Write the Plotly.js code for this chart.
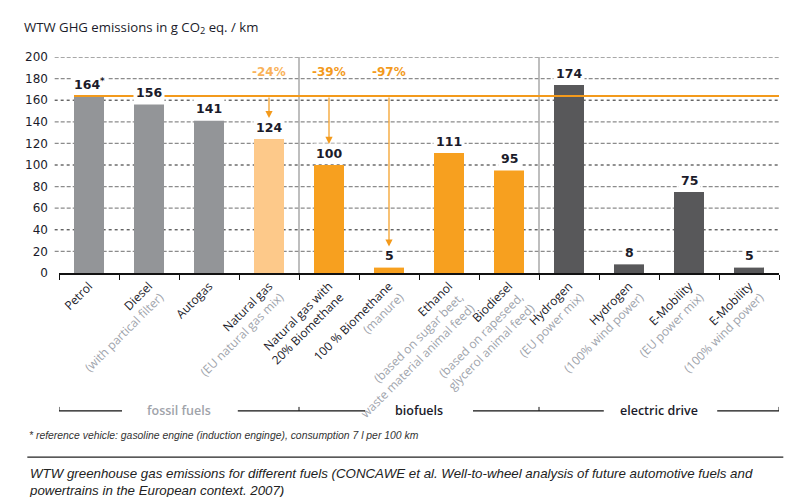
<!DOCTYPE html>
<html>
<head>
<meta charset="utf-8">
<script src="https://cdn.plot.ly/plotly-3.0.1.min.js"></script>
<style>html,body{margin:0;padding:0;background:#fff;}#chart{width:809px;height:497px;}</style>
</head>
<body>
<div id="chart"></div>
<script>
// ---- data ----
const keys = ['petrol','diesel','autogas','ng','ng20','bio100','ethanol','biodiesel','h2eu','h2wind','emeu','emwind'];
const mainLabels = ['Petrol','Diesel','Autogas','Natural gas','Natural gas with','100 % Biomethane','Ethanol','Biodiesel','Hydrogen','Hydrogen','E-Mobility','E-Mobility'];
const subLabels = ['','(with partical filter)','','(EU natural gas mix)','20% Biomethane|dark','(manure)','(based on sugar beet,<br>waste material animal feed)','(based on rapeseed,<br>glycerol animal feed)','(EU power mix)','(100% wind power)','(EU power mix)','(100% wind power)'];
const values = [164,156,141,124,100,5,111,95,174,8,75,5];
const valueText = ['164<sup>*</sup>','156','141','124','100','5','111','95','174','8','75','5'];
const kinds = ['fossil','fossil','fossil','gas','bio','bio','bio','bio','elec','elec','elec','elec'];
const groups = ['fossil fuels','biofuels','electric drive'];
const reference = 164;            // petrol reference line
const reductions = [{i:3,text:'-24%',light:true},{i:4,text:'-39%'},{i:5,text:'-97%'}];
const yTicks = [0,20,40,60,80,100,120,140,160,180,200];
const darkGrid = [40,100,160];

// ---- styles ----
const colorOf = {fossil:'#939598', gas:'#fdc98a', bio:'#f7a01f', elec:'#58585a'};
const orange = '#f39a1c';
const greyTxt = '#a0a4ac';

const ticktext = mainLabels.map((m,i)=>{
  let s = subLabels[i];
  if(!s) return m;
  if(s.endsWith('|dark')) return m + '<br>' + s.replace('|dark','');
  return m + '<br><span style="color:'+greyTxt+'">' + s.split('<br>').join('</span><br><span style="color:'+greyTxt+'">') + '</span>';
});

const trace = {
  type:'bar', x: keys, y: values,
  marker:{color: kinds.map(k=>colorOf[k])},
  width:0.5, hoverinfo:'none'
};

const shapes = [];
yTicks.filter(v=>v>0).forEach(v=>{
  const dark = darkGrid.includes(v);
  shapes.push({type:'line', xref:'paper', yref:'y', x0:-0.006, x1:1, y0:v, y1:v, layer:'below',
    line:{color: dark? '#222':'#8c8c8c', width: dark?1:1.3, dash: dark?'dot':'4px,2px'}});
});
// group separators
[3.5,7.5].forEach(x=>shapes.push({type:'line', xref:'x', yref:'y', x0:x, x1:x, y0:0, y1:200, layer:'below', line:{color:'#a8a8a8', width:1.5}}));
// reference line
shapes.push({type:'line', xref:'x', yref:'y', x0:-0.25, x1:11.5, y0:reference, y1:reference, line:{color:orange, width:2}});
// group brackets
const by = -0.638, bt = -0.62;
const segs = [[-0.5,0.55],[2.48,4.6],[6.4,8.58],[10.47,11.5]];
segs.forEach(s=>shapes.push({type:'line', xref:'x', yref:'paper', x0:s[0], x1:s[1], y0:by, y1:by, line:{color:'#111', width:1.2}}));
[-0.5,3.5,7.5,11.5].forEach(x=>shapes.push({type:'line', xref:'x', yref:'paper', x0:x, x1:x, y0:by, y1:bt, line:{color:'#111', width:1}}));
// footer rule
shapes.push({type:'line', xref:'paper', yref:'paper', x0:-0.044, x1:1.006, y0:-0.852, y1:-0.852, line:{color:'#222', width:1.2}});

const annotations = [];
values.forEach((v,i)=>{
  annotations.push({x:i, y:v, xref:'x', yref:'y', text:valueText[i], showarrow:false, yanchor:'middle', yshift:12,
    bgcolor:'#fff', borderpad:2, font:{family:'DejaVu Sans, Verdana, sans-serif', size:12.5, color:'#1b1b2a', weight:'bold'}});
});
reductions.forEach(r=>{
  annotations.push({x:r.i, y:values[r.i], xref:'x', yref:'y', ax:r.i, ay:reference, axref:'x', ayref:'y', text:'',
    showarrow:true, arrowhead:2, arrowsize:1.2, arrowwidth:1.2, arrowcolor:orange, standoff:21});
  annotations.push({x:r.i, y:186, xref:'x', yref:'y', text:r.text, showarrow:false,
    font:{family:'DejaVu Sans, Verdana, sans-serif', size:12, color: r.light? '#f9b25a':'#f39a1c', weight:'bold'}});
});
groups.forEach((g,j)=>{
  annotations.push({x:1.5+4*j, y:by, xref:'x', yref:'paper', text:g, showarrow:false, yanchor:'middle',
    font:{family:'Open Sans, sans-serif', size:12.5, color: j===0? '#a0a3aa':'#1b1b2a', weight: 600}});
});
annotations.push({x:-0.044, y:-0.75, xref:'paper', yref:'paper', xanchor:'left', yanchor:'middle', showarrow:false,
  text:'<i>* reference vehicle: gasoline engine (induction enginge), consumption 7 l per 100 km</i>',
  font:{family:'Liberation Sans Narrow, Liberation Sans, sans-serif', size:10.4, color:'#333'}});
annotations.push({x:-0.044, y:-0.885, xref:'paper', yref:'paper', xanchor:'left', yanchor:'top', align:'left', showarrow:false,
  text:'<i>WTW greenhouse gas emissions for different fuels (CONCAWE et al. Well-to-wheel analysis of future automotive fuels and<br>powertrains in the European context. 2007)</i>',
  font:{family:'Liberation Sans Narrow, Liberation Sans, sans-serif', size:13.3, color:'#222'}});

const layout = {
  width:809, height:497,
  margin:{l:59, r:30, t:57, b:224, pad:0},
  paper_bgcolor:'#fff', plot_bgcolor:'#fff',
  showlegend:false,
  title:{text:'WTW GHG emissions in g CO<sub>2</sub> eq. / km', x:24/809, xanchor:'left', xref:'container', y:1-27/497, yanchor:'middle', yref:'container',
    font:{family:'Open Sans, sans-serif', size:13.2, color:'#1b1b2a'}},
  xaxis:{type:'category', tickmode:'array', tickvals:keys, ticktext:ticktext, tickangle:-45, tickson:'boundaries',
    ticks:'outside', ticklen:5, tickcolor:'#111', tickwidth:1,
    showline:true, linecolor:'#111', linewidth:1.5, showgrid:false, fixedrange:true,
    range:[-0.5,11.5], tickfont:{family:'Open Sans, sans-serif', size:12, color:'#1b1b2a'}},
  yaxis:{range:[0,200], tickvals:yTicks, showgrid:false, zeroline:false, showline:false, ticks:'',
    ticklabelstandoff:10, tickfont:{family:'DejaVu Sans, Verdana, sans-serif', size:12, color:'#1b1b2a'}},
  shapes:shapes, annotations:annotations
};

Plotly.newPlot('chart',[trace],layout,{staticPlot:true, displayModeBar:false});
</script>
</body>
</html>
